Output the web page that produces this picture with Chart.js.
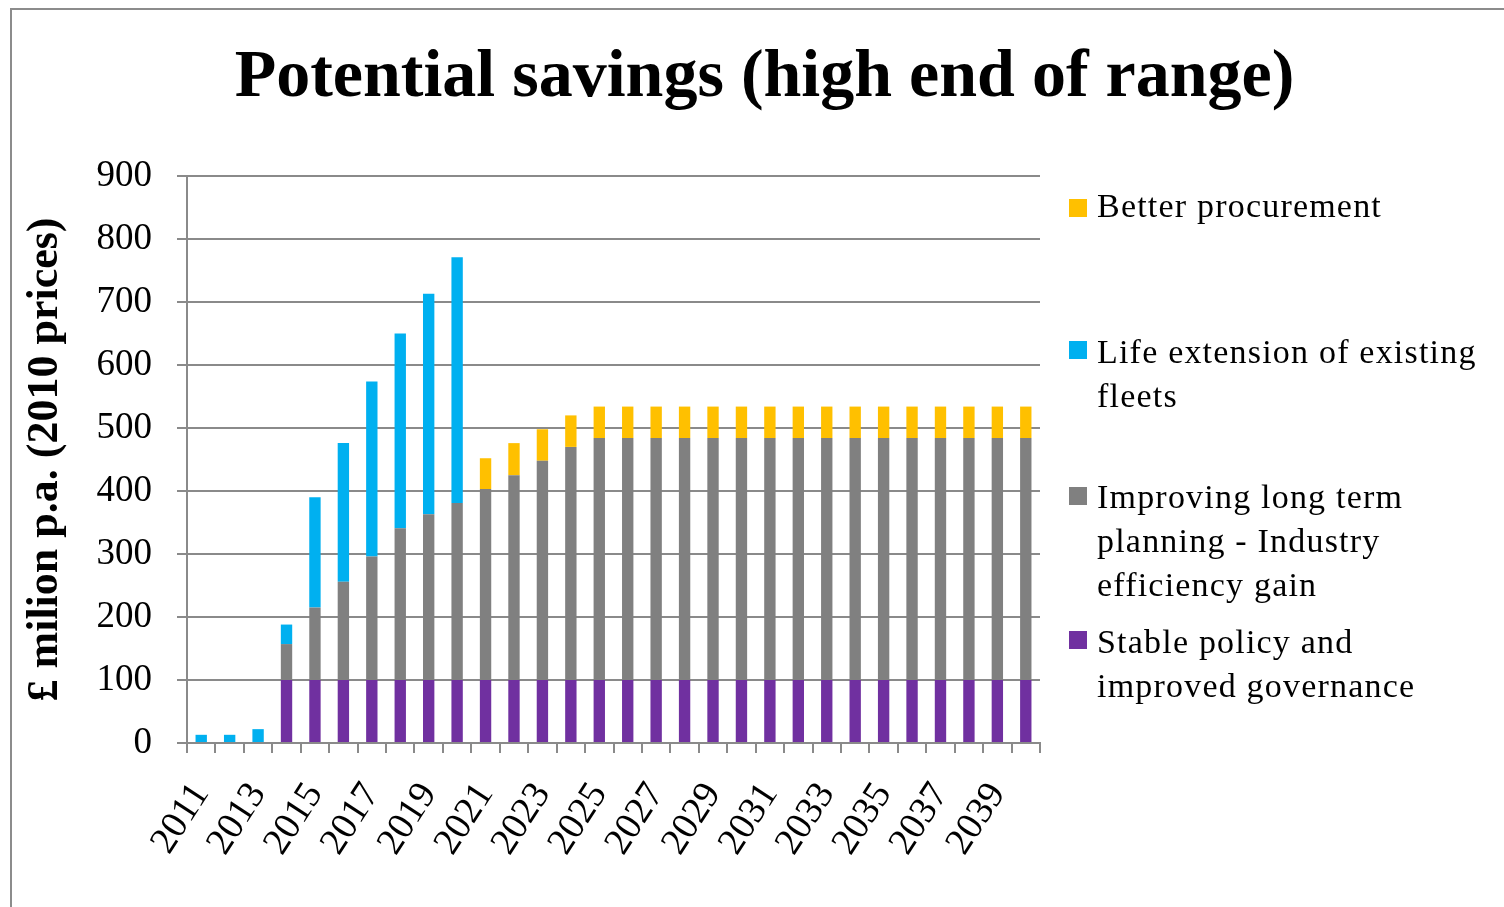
<!DOCTYPE html>
<html>
<head>
<meta charset="utf-8">
<script src="https://cdn.jsdelivr.net/npm/chart.js@4"></script>
<style>
  body { margin: 0; background: #fff; }
  #wrap { position: relative; width: 1504px; height: 907px; overflow: hidden; }
  #frame { position: absolute; left: 10px; top: 8px; width: 1510px; height: 920px; border: 2px solid #8c8c8c; box-sizing: border-box; }
  canvas { position: absolute; left: 0; top: 0; }
  #title { position: absolute; left: 0; top: 33px; width: 1529px; text-align: center; font-family: 'Liberation Serif', serif; font-weight: bold; font-size: 68px; line-height: 80px; color: #000; white-space: nowrap; }
  .lg { position: absolute; left: 1097px; font-family: 'Liberation Serif', serif; font-size: 34px; line-height: 44px; color: #000; letter-spacing: 1.2px; white-space: nowrap; }
  .sq { position: absolute; left: 1069px; width: 18px; height: 18px; }
</style>
</head>
<body>
<div id="wrap">
  <div id="frame"></div>
  <canvas id="chart" width="1504" height="907"></canvas>
  <div id="title">Potential savings (high end of range)</div>
  <div class="sq" style="top:199px;background:#FFC000"></div>
  <div class="lg" style="top:184px">Better procurement</div>
  <div class="sq" style="top:341px;background:#00B0F0"></div>
  <div class="lg" style="top:330px">Life extension of existing<br>fleets</div>
  <div class="sq" style="top:487px;background:#808080"></div>
  <div class="lg" style="top:475px">Improving long term<br>planning - Industry<br>efficiency gain</div>
  <div class="sq" style="top:631px;background:#7030A0"></div>
  <div class="lg" style="top:620px">Stable policy and<br>improved governance</div>
</div>
<script>
// values (£ million p.a.)
const years = ['2011','2012','2013','2014','2015','2016','2017','2018','2019','2020',
  '2021','2022','2023','2024','2025','2026','2027','2028','2029','2030',
  '2031','2032','2033','2034','2035','2036','2037','2038','2039','2040'];
const stablePolicy = [0,0,0,100,100,100,100,100,100,100,
  100,100,100,100,100,100,100,100,100,100,
  100,100,100,100,100,100,100,100,100,100];
const longTermPlanning = [0,0,0,57,115,156,196,241,263,281,
  303,325,348,370,384,384,384,384,384,384,
  384,384,384,384,384,384,384,384,384,384];
const lifeExtension = [13,13,22,31,175,220,278,309,350,390,
  0,0,0,0,0,0,0,0,0,0,
  0,0,0,0,0,0,0,0,0,0];
const betterProcurement = [0,0,0,0,0,0,0,0,0,0,
  49,51,50,50,50,50,50,50,50,50,
  50,50,50,50,50,50,50,50,50,50];
const yTicks = [0,100,200,300,400,500,600,700,800,900];

const serif = 'Liberation Serif';
const gridCol = '#8a8a8a';

function bar(label, data, color) {
  return {
    label: label,
    data: data,
    backgroundColor: color,
    barPercentage: 0.8,
    categoryPercentage: 0.5
  };
}

let chart = new Chart(document.getElementById('chart'), {
  type: 'bar',
  data: {
    labels: years,
    datasets: [
      bar('Stable policy and improved governance', stablePolicy, '#7030A0'),
      bar('Improving long term planning - Industry efficiency gain', longTermPlanning, '#808080'),
      bar('Life extension of existing fleets', lifeExtension, '#00B0F0'),
      bar('Better procurement', betterProcurement, '#FFC000')
    ]
  },
  options: {
    responsive: false,
    animation: false,
    layout: { padding: { left: 0, right: 464, top: 176, bottom: 0 } },
    plugins: {
      legend: { display: false },
      tooltip: { enabled: false },
      title: { display: false }
    },
    scales: {
      x: {
        stacked: true,
        afterFit: function(s) { s.height = 164; },
        grid: { drawOnChartArea: false, drawTicks: true, tickLength: 10, color: gridCol, lineWidth: 2 },
        border: { color: gridCol, width: 2 },
        ticks: {
          autoSkip: false,
          minRotation: 57,
          maxRotation: 57,
          padding: 22,
          color: '#000',
          font: { family: serif, size: 38 },
          callback: function(v, i) { return i % 2 === 0 ? years[i] : ''; }
        }
      },
      y: {
        stacked: true,
        min: 0,
        max: 900,
        afterFit: function(s) { s.width = 187; },
        afterBuildTicks: function(s) { s.ticks = yTicks.map(v => ({ value: v })); },
        grid: { color: gridCol, lineWidth: 2, tickLength: 10 },
        border: { color: gridCol, width: 2 },
        ticks: {
          padding: 25,
          color: '#000',
          font: { family: serif, size: 37 }
        },
        title: {
          display: true,
          text: '£ milion p.a. (2010 prices)',
          color: '#000',
          font: { family: serif, size: 44, weight: 'bold' },
          padding: { top: 19, bottom: 0 }
        }
      }
    }
  }
});
</script>
</body>
</html>
